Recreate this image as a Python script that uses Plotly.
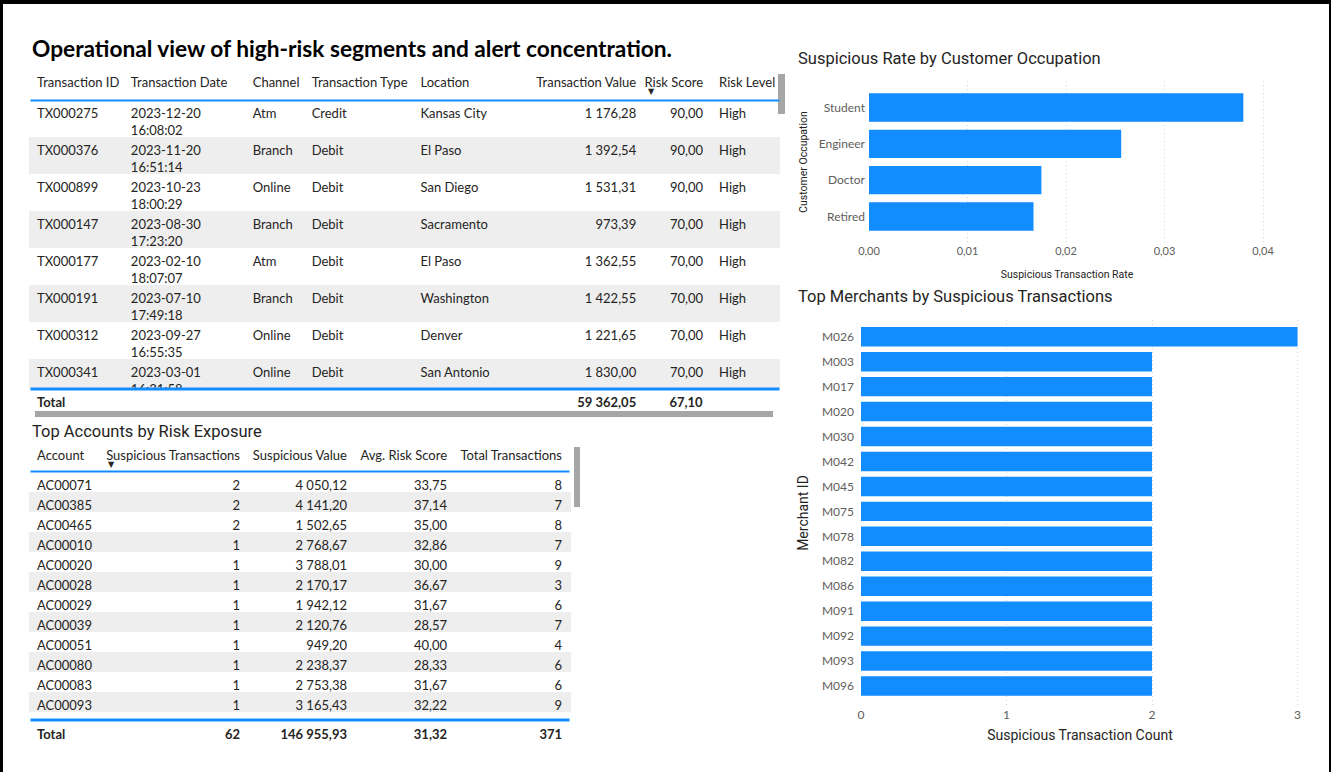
import plotly.graph_objects as go

W, H = 1331, 772

# =======================================
# Data
# =======================================

# high-risk transactions table
tx_ids = ["TX000275", "TX000376", "TX000899", "TX000147", "TX000177", "TX000191", "TX000312", "TX000341"]
tx_dates = [
    "2023-12-20 16:08:02", "2023-11-20 16:51:14", "2023-10-23 18:00:29", "2023-08-30 17:23:20",
    "2023-02-10 18:07:07", "2023-07-10 17:49:18", "2023-09-27 16:55:35", "2023-03-01 16:31:58",
]
tx_channels = ["Atm", "Branch", "Online", "Branch", "Atm", "Branch", "Online", "Online"]
tx_types = ["Credit", "Debit", "Debit", "Debit", "Debit", "Debit", "Debit", "Debit"]
tx_locations = ["Kansas City", "El Paso", "San Diego", "Sacramento", "El Paso", "Washington", "Denver", "San Antonio"]
tx_values = [1176.28, 1392.54, 1531.31, 973.39, 1362.55, 1422.55, 1221.65, 1830.00]
tx_risk_scores = [90, 90, 90, 70, 70, 70, 70, 70]
tx_risk_levels = ["High", "High", "High", "High", "High", "High", "High", "High"]
tx_headers = ["Transaction ID", "Transaction Date", "Channel", "Transaction Type",
              "Location", "Transaction Value", "Risk Score", "Risk Level"]
tx_total_value = 59362.05
tx_total_risk = 67.10

# top accounts table
accounts = ["AC00071", "AC00385", "AC00465", "AC00010", "AC00020", "AC00028", "AC00029",
            "AC00039", "AC00051", "AC00080", "AC00083", "AC00093", "AC00095"]
acc_susp_tx = [2, 2, 2, 1, 1, 1, 1, 1, 1, 1, 1, 1, 1]
acc_susp_value = [4050.12, 4141.20, 1502.65, 2768.67, 3788.01, 2170.17, 1942.12,
                  2120.76, 949.20, 2238.37, 2753.38, 3165.43, 2181.87]
acc_avg_risk = [33.75, 37.14, 35.00, 32.86, 30.00, 36.67, 31.67, 28.57, 40.00, 28.33, 31.67, 32.22, 28.75]
acc_total_tx = [8, 7, 8, 7, 9, 3, 6, 7, 4, 6, 6, 9, 8]
acc_headers = ["Account", "Suspicious Transactions", "Suspicious Value", "Avg. Risk Score", "Total Transactions"]
acc_totals = [62, 146955.93, 31.32, 371]

# suspicious rate by occupation
occupations = ["Student", "Engineer", "Doctor", "Retired"]
occupation_rates = [0.0380, 0.0256, 0.0175, 0.0167]

# top merchants
merchants = ["M026", "M003", "M017", "M020", "M030", "M042", "M045", "M075",
             "M078", "M082", "M086", "M091", "M092", "M093", "M096"]
merchant_counts = [3, 2, 2, 2, 2, 2, 2, 2, 2, 2, 2, 2, 2, 2, 2]

# =======================================
# Style
# =======================================
BLUE = "#118DFF"
TEXT = "#252423"
TICK = "#605E5C"
STRIPE = "#EEEEEE"
CLEAR = "rgba(0,0,0,0)"
TABLE_FONT = "Lato"
TITLE_FONT = "Roboto"
NBSP = "\u00a0"


def px_x(x):
    return x / W


def px_y(y):
    return 1 - y / H


def fmt_num(v, dec=2):
    return f"{v:,.{dec}f}".replace(",", NBSP).replace(".", ",")


def stripes(n):
    return ["white" if i % 2 == 0 else STRIPE for i in range(n)]


def no_wrap(labels):
    return [s.replace(" ", NBSP) for s in labels]


table_font = dict(family=TABLE_FONT, size=13, color=TEXT)

fig = go.Figure()

# =======================================
# Transactions table
# =======================================
tx_cols = [94, 122, 59, 109, 112, 120, 67, 68]
tx_align = ["left", "left", "left", "left", "left", "right", "right", "left"]
tx_fill = stripes(len(tx_ids))
tx_row_h = 37

fig.add_trace(go.Table(
    domain=dict(x=[px_x(29), px_x(779)], y=[px_y(389), px_y(69)]),
    columnwidth=tx_cols,
    header=dict(values=no_wrap(tx_headers), align=tx_align, fill_color="white",
                line_color="white", height=31, font=table_font),
    cells=dict(
        values=[
            tx_ids,
            [d.split(" ")[0] for d in tx_dates],
            tx_channels,
            tx_types,
            tx_locations,
            [fmt_num(v) for v in tx_values],
            [fmt_num(v) for v in tx_risk_scores],
            tx_risk_levels,
        ],
        align=tx_align, fill_color=[tx_fill], line_color=[tx_fill], height=tx_row_h, font=table_font,
    ),
))

# second line of the date cells (time part), laid over the same rows
fig.add_trace(go.Table(
    domain=dict(x=[px_x(29), px_x(779)], y=[px_y(389), px_y(86)]),
    columnwidth=tx_cols,
    header=dict(values=["" for _ in tx_cols], fill_color=CLEAR, line_color=CLEAR, height=31),
    cells=dict(
        values=[[""] * len(tx_ids), [d.split(" ")[1] for d in tx_dates]] + [[""] * len(tx_ids)] * 6,
        align=tx_align, fill_color=CLEAR, line_color=CLEAR, height=tx_row_h, font=table_font,
    ),
))

# total row
fig.add_trace(go.Table(
    domain=dict(x=[px_x(29), px_x(779)], y=[px_y(412), px_y(386)]),
    columnwidth=tx_cols,
    header=dict(
        values=["<b>Total</b>", "", "", "", "", f"<b>{fmt_num(tx_total_value)}</b>",
                f"<b>{fmt_num(tx_total_risk)}</b>", ""],
        align=tx_align, fill_color=CLEAR, line_color=CLEAR, height=24, font=table_font,
    ),
    cells=dict(values=[[] for _ in tx_cols]),
))

# =======================================
# Accounts table
# =======================================
acc_cols = [64, 155, 107, 100, 115]
acc_align = ["left", "right", "right", "right", "right"]
acc_fill = stripes(len(accounts))

fig.add_trace(go.Table(
    domain=dict(x=[px_x(29), px_x(570)], y=[px_y(720), px_y(442)]),
    columnwidth=acc_cols,
    header=dict(values=no_wrap(acc_headers), align=acc_align, fill_color="white",
                line_color="white", height=30, font=table_font),
    cells=dict(
        values=[
            accounts,
            acc_susp_tx,
            [fmt_num(v) for v in acc_susp_value],
            [fmt_num(v) for v in acc_avg_risk],
            acc_total_tx,
        ],
        align=acc_align, fill_color=[acc_fill], line_color=[acc_fill], height=20, font=table_font,
    ),
))

fig.add_trace(go.Table(
    domain=dict(x=[px_x(29), px_x(570)], y=[px_y(745), px_y(718)]),
    columnwidth=acc_cols,
    header=dict(
        values=["<b>Total</b>", f"<b>{acc_totals[0]}</b>", f"<b>{fmt_num(acc_totals[1])}</b>",
                f"<b>{fmt_num(acc_totals[2])}</b>", f"<b>{acc_totals[3]}</b>"],
        align=acc_align, fill_color=CLEAR, line_color=CLEAR, height=26, font=table_font,
    ),
    cells=dict(values=[[] for _ in acc_cols]),
))

# =======================================
# Bar charts
# =======================================
fig.add_trace(go.Bar(
    x=occupation_rates, y=occupations, orientation="h",
    marker=dict(color=BLUE, line=dict(width=0)),
    xaxis="x", yaxis="y", hoverinfo="x+y",
))
fig.add_trace(go.Bar(
    x=merchant_counts, y=merchants, orientation="h",
    marker=dict(color=BLUE, line=dict(width=0)),
    xaxis="x2", yaxis="y2", hoverinfo="x+y",
))

grid = dict(showgrid=True, gridcolor="#D4D4D4", griddash="1px,3px", gridwidth=1,
            zeroline=False, showline=False, ticks="", automargin=False)

fig.update_layout(
    width=W, height=H,
    margin=dict(l=0, r=0, t=0, b=0),
    paper_bgcolor="white", plot_bgcolor="white",
    showlegend=False,
    separators=", ",
    bargap=0.22,
    xaxis=dict(
        domain=[px_x(869), px_x(1265)], anchor="y",
        range=[0, 0.0402], dtick=0.01, tickformat=".2f",
        tickfont=dict(family=TABLE_FONT, size=11, color=TICK),
        title=dict(text="Suspicious Transaction Rate", standoff=14,
                   font=dict(family=TITLE_FONT, size=10.5, color=TEXT)),
        **grid,
    ),
    yaxis=dict(
        domain=[px_y(243), px_y(81)], anchor="x",
        type="category", categoryorder="array", categoryarray=occupations,
        range=[len(occupations) - 1 + 0.73, -0.73],
        showgrid=False, zeroline=False, showline=False, ticks="", automargin=False,
        ticklabelstandoff=3,
        tickfont=dict(family=TABLE_FONT, size=12, color=TICK),
        title=dict(text="Customer Occupation", standoff=8,
                   font=dict(family=TITLE_FONT, size=10.5, color=TEXT)),
    ),
    xaxis2=dict(
        domain=[px_x(861), px_x(1299)], anchor="y2",
        range=[0, 3.01], dtick=1,
        tickfont=dict(family=TABLE_FONT, size=12, color=TICK),
        title=dict(text="Suspicious Transaction Count", standoff=9,
                   font=dict(family=TITLE_FONT, size=14, color=TEXT)),
        **grid,
    ),
    yaxis2=dict(
        domain=[px_y(706), px_y(320)], anchor="x2",
        type="category", categoryorder="array", categoryarray=merchants,
        range=[len(merchants) - 1 + 0.8, -0.67],
        showgrid=False, zeroline=False, showline=False, ticks="", automargin=False,
        ticklabelstandoff=6,
        tickfont=dict(family=TABLE_FONT, size=12, color=TICK),
        title=dict(text="Merchant ID", standoff=10,
                   font=dict(family=TITLE_FONT, size=14, color=TEXT)),
    ),
)

# =======================================
# Titles and decorations
# =======================================
titles = [
    ("<b>Operational view of high-risk segments and alert concentration.</b>", 30, 48, "Lato", 22.7, "#000000"),
    ("Suspicious Rate by Customer Occupation", 796, 58, TITLE_FONT, 16.5, TEXT),
    ("Top Merchants by Suspicious Transactions", 796, 296, TITLE_FONT, 16.5, TEXT),
    ("Top Accounts by Risk Exposure", 30, 431, TITLE_FONT, 16.5, TEXT),
]
for text, x, y, family, size, color in titles:
    fig.add_annotation(x=px_x(x), y=px_y(y), xref="paper", yref="paper", xanchor="left", yanchor="middle",
                       text=text, showarrow=False, font=dict(family=family, size=size, color=color))

# sort indicators
for x, y in [(651, 92), (106, 464)]:
    fig.add_annotation(x=px_x(x), y=px_y(y), xref="paper", yref="paper", yanchor="middle",
                       text="▼", showarrow=False,
                       font=dict(family="DejaVu Sans", size=8, color=TEXT))

# blue separators (annotations sit above the table layer)
for x0, x1, y, h in [(30, 778, 100, 1), (30, 778, 389, 2), (30, 568, 472, 1), (30, 568, 720, 2)]:
    fig.add_annotation(x=px_x(x0), y=px_y(y), xref="paper", yref="paper", xanchor="left", yanchor="middle",
                       text=" ", width=x1 - x0, height=h, bgcolor=BLUE, borderpad=0, showarrow=False,
                       font=dict(size=1))

# scrollbars and frame
shapes = [
    (778, 74, 785, 114, "#A6A6A6"),
    (35, 411, 773, 417, "#A6A6A6"),
    (574, 447, 580, 507, "#A6A6A6"),
    (0, 0, W, 4, "black"),
    (0, 0, 3, H, "black"),
    (W - 2, 0, W, H, "black"),
]
for x0, y0, x1, y1, c in shapes:
    fig.add_shape(type="rect", xref="paper", yref="paper",
                  x0=px_x(x0), x1=px_x(x1), y0=px_y(y0), y1=px_y(y1),
                  fillcolor=c, line=dict(width=0), layer="above")

fig.write_html(
    "out.html",
    config={"displayModeBar": False},
    post_script="document.body.style.margin='0';document.body.style.overflow='hidden';",
)
